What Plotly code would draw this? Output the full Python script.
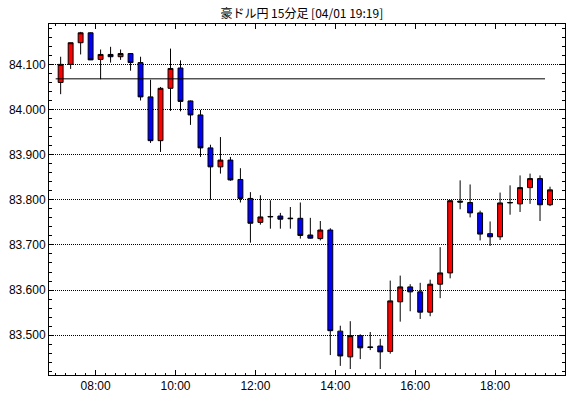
import pandas as pd
import plotly.graph_objects as go

# 15-minute candles, AUD/JPY, 07:00 .. 19:15
times = pd.date_range("2021-04-01 07:00", periods=50, freq="15min")

opens = [84.060, 84.100, 84.148, 84.170, 84.111, 84.122, 84.117, 84.124, 84.104, 84.028,
         83.931, 84.047, 84.092, 84.019, 83.988, 83.915, 83.873, 83.888, 83.845, 83.803,
         83.750, 83.762, 83.764, 83.758, 83.759, 83.722, 83.714, 83.733, 83.509, 83.452,
         83.499, 83.474, 83.476, 83.464, 83.574, 83.607, 83.596, 83.551, 83.613, 83.638,
         83.797, 83.794, 83.771, 83.725, 83.718, 83.793, 83.791, 83.827, 83.847, 83.789]
highs = [84.117, 84.148, 84.172, 84.171, 84.133, 84.139, 84.133, 84.125, 84.117, 84.066,
         84.050, 84.135, 84.109, 84.020, 83.999, 83.922, 83.939, 83.895, 83.870, 83.817,
         83.810, 83.799, 83.771, 83.784, 83.794, 83.760, 83.753, 83.737, 83.521, 83.531,
         83.502, 83.507, 83.492, 83.621, 83.632, 83.613, 83.616, 83.623, 83.695, 83.799,
         83.843, 83.834, 83.776, 83.752, 83.816, 83.832, 83.854, 83.858, 83.854, 83.829]
lows = [84.034, 84.090, 84.122, 84.110, 84.067, 84.104, 84.110, 84.086, 84.020, 83.926,
        83.906, 83.997, 83.996, 83.966, 83.895, 83.800, 83.858, 83.842, 83.794, 83.705,
        83.745, 83.736, 83.736, 83.736, 83.714, 83.714, 83.710, 83.456, 83.432, 83.425,
        83.447, 83.467, 83.425, 83.459, 83.530, 83.553, 83.536, 83.542, 83.582, 83.626,
        83.779, 83.761, 83.710, 83.698, 83.711, 83.767, 83.773, 83.791, 83.753, 83.786]
closes = [84.100, 84.148, 84.170, 84.110, 84.122, 84.117, 84.124, 84.104, 84.028, 83.931,
          84.047, 84.091, 84.018, 83.988, 83.915, 83.873, 83.888, 83.844, 83.803, 83.748,
          83.762, 83.763, 83.757, 83.759, 83.721, 83.715, 83.733, 83.510, 83.454, 83.499,
          83.472, 83.473, 83.463, 83.576, 83.607, 83.596, 83.551, 83.613, 83.638, 83.798,
          83.795, 83.771, 83.724, 83.718, 83.793, 83.794, 83.827, 83.847, 83.789, 83.822]

ref_level = 84.068
title_text = "豪ドル円 15分足 [04/01 19:19]"
y_range = [83.4118, 84.1895]
x_range = ["2021-04-01 06:50", "2021-04-01 19:45"]

tick_font = dict(family="Liberation Sans Narrow, Liberation Sans, Arial", size=12, color="black")

fig = go.Figure()
fig.add_trace(go.Candlestick(
    x=times, open=opens, high=highs, low=lows, close=closes,
    xperiod=900000, xperiodalignment="middle",
    increasing=dict(fillcolor="#FF0000", line=dict(color="black", width=1)),
    decreasing=dict(fillcolor="#0000FF", line=dict(color="black", width=1)),
    hoverinfo="skip", showlegend=False,
))
fig.add_trace(go.Scatter(
    x=[times[0], times[-1]], y=[ref_level, ref_level], mode="lines",
    line=dict(color="black", width=1), hoverinfo="skip", showlegend=False,
))

fig.update_layout(
    width=570, height=398,
    margin=dict(l=49, r=5, t=24, b=23),
    paper_bgcolor="white", plot_bgcolor="white",
    title=dict(text=title_text, x=0.49, xref="paper", xanchor="center",
               y=0.965, yref="container", yanchor="middle",
               font=dict(family="Noto Sans CJK JP", size=12, color="black")),
    showlegend=False,
)
fig.update_xaxes(
    type="date", range=x_range, rangeslider=dict(visible=False),
    showgrid=False, zeroline=False,
    showline=True, linecolor="black", linewidth=1, mirror="allticks",
    ticks="inside", ticklen=5, tickcolor="black", tickwidth=1,
    tick0="2021-04-01 00:00", dtick=7200000, tickformat="%H:%M",
    tickfont=tick_font,
    minor=dict(ticks="inside", ticklen=2, tickcolor="black", dtick=900000,
               tick0="2021-04-01 00:00", showgrid=False),
)
fig.update_yaxes(
    range=y_range, showgrid=True, gridcolor="black", gridwidth=1, griddash="1px,1px",
    zeroline=False,
    showline=True, linecolor="black", linewidth=1, mirror="allticks",
    ticks="inside", ticklen=5, tickcolor="black", tickwidth=1,
    tick0=83.5, dtick=0.1, tickformat=".3f",
    tickfont=tick_font,
    minor=dict(ticks="inside", ticklen=3, tickcolor="black", dtick=0.02, tick0=83.5,
               showgrid=False),
)

fig.write_html("out.html")
